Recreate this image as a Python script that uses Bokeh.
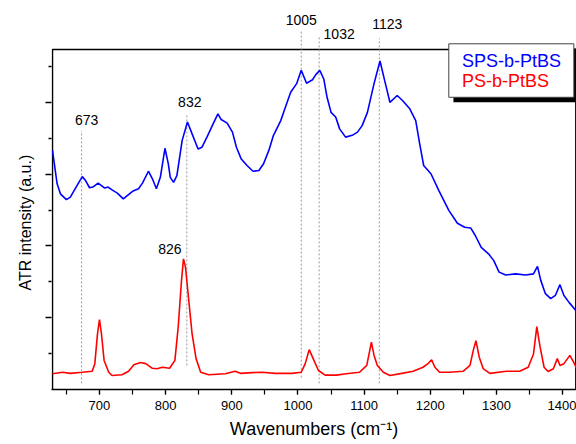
from bokeh.plotting import figure
from bokeh.models import (Range1d, SingleIntervalTicker, FixedTicker, ColumnDataSource,
                          CustomJSTickFormatter, Title)
from bokeh.core.properties import value
from bokeh.embed import file_html
from bokeh.resources import INLINE

FONT = "Liberation Sans"

# SPS-b-PtBS (blue)
blue_wn = [629, 636, 641, 650, 656, 666, 674, 679, 685, 691,
           698, 703, 708, 713, 719, 727, 736, 742, 750, 759,
           765, 774, 780, 786, 792, 799, 804, 807, 812, 817,
           825, 833, 840, 849, 855, 863, 870, 879, 884, 893,
           901, 907, 914, 923, 932, 941, 948, 956, 963, 974,
           981, 989, 998, 1005, 1013, 1022, 1027, 1033, 1039, 1044,
           1050, 1057, 1063, 1072, 1082, 1090, 1097, 1105, 1115, 1124,
           1131, 1139, 1150, 1158, 1169, 1178, 1184, 1190, 1201, 1213,
           1228, 1241, 1252, 1261, 1268, 1277, 1288, 1296, 1304, 1314,
           1329, 1344, 1356, 1362, 1367, 1374, 1382, 1389, 1396, 1402,
           1410, 1420]
blue_y = [6.66, 5.73, 5.45, 5.29, 5.36, 5.68, 5.93, 5.82, 5.62, 5.65,
          5.75, 5.68, 5.61, 5.64, 5.56, 5.47, 5.31, 5.40, 5.52, 5.59,
          5.75, 6.08, 5.87, 5.59, 5.91, 6.72, 6.29, 5.91, 5.77, 5.96,
          6.94, 7.45, 7.12, 6.70, 6.75, 7.05, 7.33, 7.68, 7.52, 7.42,
          7.17, 6.75, 6.43, 6.24, 6.08, 6.10, 6.29, 6.66, 7.08, 7.49,
          7.86, 8.28, 8.52, 8.89, 8.53, 8.63, 8.77, 8.89, 8.65, 8.14,
          7.72, 7.59, 7.26, 7.03, 7.08, 7.17, 7.35, 7.72, 8.52, 9.15,
          8.61, 8.00, 8.19, 8.05, 7.82, 7.49, 6.84, 6.24, 6.01, 5.54,
          4.99, 4.63, 4.52, 4.50, 4.29, 3.96, 3.78, 3.59, 3.27, 3.19,
          3.22, 3.19, 3.22, 3.43, 3.04, 2.67, 2.53, 2.62, 2.92, 2.62,
          2.42, 2.20]

# PS-b-PtBS (red)
red_wn = [629, 644, 656, 674, 689, 693, 697, 700, 703, 707,
          714, 719, 734, 744, 752, 762, 770, 780, 787, 795,
          806, 814, 819, 824, 827, 830, 835, 840, 846, 853,
          865, 890, 905, 913, 931, 946, 966, 991, 1005, 1011,
          1017, 1023, 1031, 1041, 1058, 1073, 1093, 1104, 1108, 1111,
          1115, 1120, 1129, 1139, 1157, 1174, 1189, 1197, 1202, 1207,
          1214, 1229, 1250, 1260, 1265, 1269, 1274, 1280, 1290, 1315,
          1335, 1348, 1356, 1361, 1366, 1372, 1378, 1386, 1392, 1396,
          1402, 1411, 1417, 1421]
red_y = [0.44, 0.48, 0.45, 0.48, 0.51, 0.72, 1.55, 1.95, 1.55, 0.81,
         0.48, 0.39, 0.41, 0.51, 0.69, 0.75, 0.72, 0.59, 0.58, 0.62,
         0.59, 0.81, 1.74, 3.04, 3.64, 3.41, 2.48, 1.55, 0.86, 0.48,
         0.41, 0.44, 0.51, 0.45, 0.47, 0.48, 0.45, 0.45, 0.48, 0.72,
         1.11, 0.86, 0.53, 0.40, 0.40, 0.44, 0.48, 0.67, 1.04, 1.32,
         0.95, 0.67, 0.48, 0.39, 0.45, 0.51, 0.62, 0.73, 0.83, 0.62,
         0.48, 0.48, 0.51, 0.67, 1.09, 1.36, 0.90, 0.58, 0.45, 0.51,
         0.51, 0.62, 0.99, 1.75, 1.18, 0.62, 0.50, 0.58, 0.86, 0.67,
         0.72, 0.95, 0.75, 0.60]

# peak markers (dashed lines) and labels
peak_wn = [673, 832, 1005, 1032, 1123]
peak_top = [7.21, 7.69, 10.0, 9.81, 9.78]
peak_bottom = [0.17, 0.67, 0.33, 0.17, 0.17]
label_wn = [673, 832, 1005, 1032, 1123, 826]
label_text = ["673", "832", "1005", "1032", "1123", "826"]
label_y = [7.52, 8.02, 10.28, 9.89, 10.17, 3.90]
label_dx = [5, 3, 0, 20, 8, -13]

y_major_ticks = [2, 4, 6, 8]
y_minor_ticks = [1, 3, 5, 7, 9]
x_min, x_max, y_top = 629, 1420, 9.47

series_names = ["SPS-b-PtBS", "PS-b-PtBS"]
series_colors = ["#0000ff", "#ff0000"]

p = figure(width=576, height=444, output_backend="svg", toolbar_location=None,
           x_range=Range1d(627.5, 1421), y_range=Range1d(0, 10.836),
           min_border_left=51, min_border_right=0, min_border_top=0,
           min_border_bottom=55)
p.outline_line_color = None
p.grid.visible = False

xa = p.xaxis[0]
xa.ticker = SingleIntervalTicker(interval=100, num_minor_ticks=2)
xa.axis_line_width = 1.5
xa.axis_line_color = "black"
xa.major_tick_in = 0
xa.major_tick_out = 5
xa.minor_tick_in = 0
xa.minor_tick_out = 5
xa.major_tick_line_width = 1.2
xa.minor_tick_line_width = 1.2
xa.major_label_text_font = FONT
xa.major_label_text_font_size = "13px"
xa.major_label_text_color = "black"
xa.major_label_standoff = 6
xa.axis_label = "Wavenumbers (cm\u207b\u00b9)"
xa.axis_label_text_font = FONT
xa.axis_label_text_font_style = "normal"
xa.axis_label_text_font_size = "18px"
xa.axis_label_text_color = "black"
xa.axis_label_standoff = 6

ya = p.yaxis[0]
ya.ticker = FixedTicker(ticks=y_major_ticks, minor_ticks=y_minor_ticks)
ya.formatter = CustomJSTickFormatter(code="return ''")
ya.axis_line_color = None
ya.major_tick_in = 0
ya.major_tick_out = 6
ya.minor_tick_in = 0
ya.minor_tick_out = 3
ya.major_tick_line_width = 1.3
ya.minor_tick_line_width = 1.3
ya.minor_tick_line_color = "black"
ya.major_label_standoff = 0
ya.major_label_text_font_size = "1px"

# y axis title, placed lower than centre as in the reference
p.add_layout(Title(text="ATR intensity (a.u.)", align="left", offset=99,
                   text_font=FONT, text_font_size="16px", text_font_style="normal",
                   text_color="black", standoff=23), "left")

# frame (left, top, right)
p.line([x_min, x_min, x_max, x_max], [0, y_top, y_top, 0], line_color="black", line_width=1.5)

# dashed peak markers
p.segment(x0=peak_wn, y0=peak_bottom, x1=peak_wn, y1=peak_top,
          line_color="#9a9a9a", line_width=1, line_dash="2 2")

# spectra
p.line(blue_wn, blue_y, line_color=series_colors[0], line_width=1.6)
p.line(red_wn, red_y, line_color=series_colors[1], line_width=1.6)

# peak labels
lab_src = ColumnDataSource(dict(x=label_wn, y=label_y, text=label_text, dx=label_dx))
p.text(x="x", y="y", text="text", x_offset="dx", source=lab_src,
       text_font=value(FONT), text_font_size="14px", text_color="black",
       text_align="center", text_baseline="middle")

# legend box with shadow
p.quad(left=[1235], right=[1424], top=[9.50], bottom=[8.00],
       fill_color="black", line_color=None)
p.quad(left=[1228], right=[1417], top=[9.63], bottom=[8.14],
       fill_color="white", line_color="#444444", line_width=1)
leg_src = ColumnDataSource(dict(x=[1248, 1248], y=[9.16, 8.59], text=series_names,
                                c=series_colors))
p.text(x="x", y="y", text="text", text_color="c", source=leg_src,
       text_font=value(FONT), text_font_size="18px",
       text_align="left", text_baseline="middle")

open("out.html", "w").write(file_html(p, INLINE))
